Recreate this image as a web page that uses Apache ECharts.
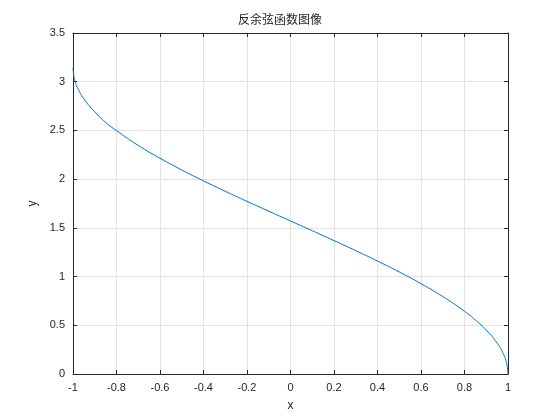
<!DOCTYPE html>
<html>
<head>
<meta charset="utf-8">
<script src="https://cdn.jsdelivr.net/npm/echarts@6/dist/echarts.min.js"></script>
<style>html,body{margin:0;background:#fff}#chart{width:560px;height:420px}</style>
</head>
<body>
<div id="chart"></div>
<script>
// 反余弦曲线上读取的点
var xValues = [-1, -0.995, -0.99, -0.98, -0.95, -0.9, -0.85, -0.8, -0.7, -0.6, -0.5, -0.4, -0.3, -0.2, -0.1, 0,
	0.1, 0.2, 0.3, 0.4, 0.5, 0.6, 0.7, 0.8, 0.85, 0.9, 0.95, 0.98, 0.99, 0.995, 1];
var yValues = [3.1416, 3.0416, 3.0000, 2.9413, 2.8240, 2.6906, 2.5824, 2.4981, 2.3462, 2.2143, 2.0944, 1.9823, 1.8755, 1.7722, 1.6710, 1.5708,
	1.4706, 1.3694, 1.2661, 1.1593, 1.0472, 0.9273, 0.7954, 0.6435, 0.5548, 0.4510, 0.3176, 0.2003, 0.1415, 0.1000, 0];
var titleText = '反余弦函数图像';

var points = xValues.map(function (x, i) { return [x, yValues[i]]; });
var chart = echarts.init(document.getElementById('chart'));
var txt = { color: '#262626', fontSize: 11, fontFamily: 'Arial, Liberation Sans' };
var lineStyle = { color: '#262626', width: 1 };
var gridLine = { show: true, lineStyle: { color: '#e3e3e3', width: 1 } };
var option = {
	animation: false,
	title: { text: titleText, left: 'center', top: 8,
		textStyle: { fontSize: 12, fontWeight: 'normal', color: '#262626', fontFamily: 'Noto Sans CJK SC' } },
	grid: { left: 73, right: 52, top: 33, bottom: 46 },
	xAxis: [{
		type: 'value', min: -1, max: 1, interval: 0.2,
		name: 'x', nameLocation: 'middle', nameGap: 26, nameTextStyle: { color: '#262626', fontSize: 12 },
		axisLine: { show: true, onZero: false, lineStyle: lineStyle },
		axisTick: { inside: true, length: 4, lineStyle: lineStyle },
		axisLabel: Object.assign({ margin: 8, formatter: function (v) { return +v.toFixed(1); } }, txt),
		splitLine: gridLine
	}, {
		type: 'value', min: -1, max: 1, interval: 0.2, position: 'top',
		axisLine: { show: true, onZero: false, lineStyle: lineStyle },
		axisTick: { inside: true, length: 4, lineStyle: lineStyle },
		axisLabel: { show: false }, splitLine: { show: false }
	}],
	yAxis: [{
		type: 'value', min: 0, max: 3.5, interval: 0.5,
		name: 'y', nameLocation: 'middle', nameGap: 32, nameTextStyle: { color: '#262626', fontSize: 12 },
		axisLine: { show: true, onZero: false, lineStyle: lineStyle },
		axisTick: { inside: true, length: 4, lineStyle: lineStyle },
		axisLabel: Object.assign({ margin: 8 }, txt),
		splitLine: gridLine
	}, {
		type: 'value', min: 0, max: 3.5, interval: 0.5, position: 'right',
		axisLine: { show: true, onZero: false, lineStyle: lineStyle },
		axisTick: { inside: true, length: 4, lineStyle: lineStyle },
		axisLabel: { show: false }, splitLine: { show: false }
	}],
	series: [{
		type: 'line', data: points, smooth: true, showSymbol: false,
		lineStyle: { color: '#0072BD', width: 1 }
	}]
};
chart.setOption(option);
</script>
</body>
</html>
